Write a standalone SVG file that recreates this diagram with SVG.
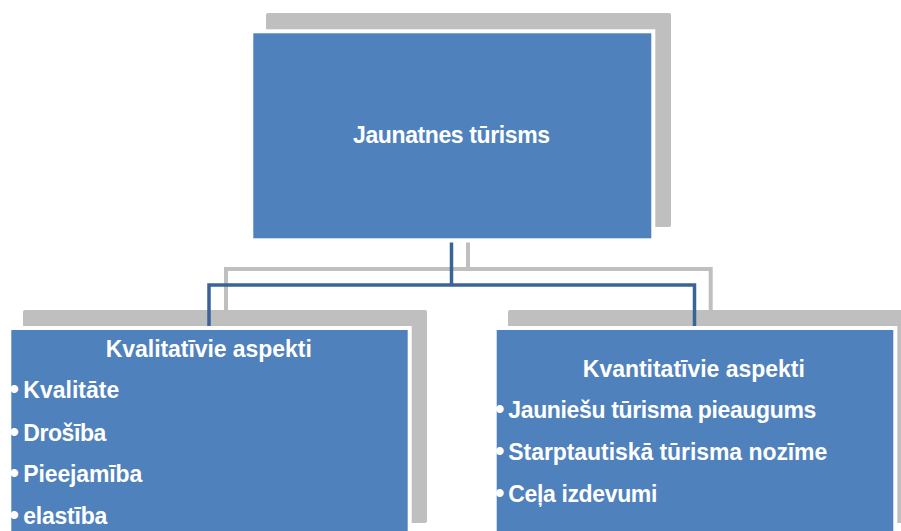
<svg xmlns="http://www.w3.org/2000/svg" width="901" height="531" viewBox="0 0 901 531">
<style>
.shadow{fill:#BFBFBF}
.box{fill:#4F81BD;stroke:#FFFFFF;stroke-width:4}
.t{font-family:"Liberation Sans",Arial,sans-serif;font-weight:bold;font-size:23px;fill:#FFFFFF}
.c{text-anchor:middle}
.b{font-size:27px}
.gl{fill:none;stroke:#BFBFBF;stroke-width:4}
.bl{fill:none;stroke:#3A6497;stroke-width:3.5}
</style>
<rect width="901" height="531" fill="#FFFFFF"/>
<g id="node-top">
<rect class="shadow" x="266" y="13" width="405" height="214" rx="2"/>
<rect class="box" x="251.3" y="31.3" width="402" height="209"/>
<text class="t c" x="451.5" y="143" textLength="197">Jaunatnes tūrisms</text>
</g>
<g id="node-left">
<rect class="shadow" x="23" y="310" width="404" height="213" rx="2"/>
<rect class="box" x="9.3" y="328" width="400.4" height="220"/>
<text class="t c" x="208.8" y="356.7" textLength="206">Kvalitatīvie aspekti</text>
<text class="t" x="9.5" y="398.3"><tspan class="b">•</tspan><tspan x="23.3" textLength="96">Kvalitāte</tspan></text>
<text class="t" x="9.5" y="440.7"><tspan class="b">•</tspan><tspan x="23.3" textLength="83">Drošība</tspan></text>
<text class="t" x="9.5" y="482.3"><tspan class="b">•</tspan><tspan x="23.3" textLength="119">Pieejamība</tspan></text>
<text class="t" x="9.5" y="524"><tspan class="b">•</tspan><tspan x="23.3" textLength="84">elastība</tspan></text>
</g>
<g id="node-right">
<rect class="shadow" x="508" y="310" width="405" height="213" rx="2"/>
<rect class="box" x="494.7" y="328" width="400.6" height="220"/>
<text class="t c" x="693.8" y="376.7" textLength="222">Kvantitatīvie aspekti</text>
<text class="t" x="495" y="418.3"><tspan class="b">•</tspan><tspan x="508.3" textLength="308">Jauniešu tūrisma pieaugums</tspan></text>
<text class="t" x="495" y="460"><tspan class="b">•</tspan><tspan x="508.3" textLength="319">Starptautiskā tūrisma nozīme</tspan></text>
<text class="t" x="495" y="501.7"><tspan class="b">•</tspan><tspan x="508.3" textLength="149">Ceļa izdevumi</tspan></text>
</g>
<g id="connectors">
<path class="gl" d="M468 242.5 V269 H226 V310 M468 269 H710.7 V310"/>
<path class="bl" d="M451.5 242.5 V285 H209 V326 M451.5 285 H694.5 V326"/>
</g>
</svg>
